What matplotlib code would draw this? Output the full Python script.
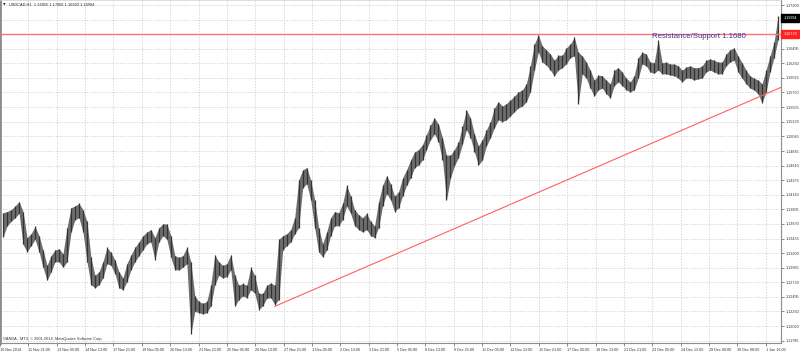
import matplotlib
matplotlib.use("Agg")
from matplotlib import pyplot as plt
import numpy as np

symbol_info = "USDCAD,H1  1.16955 1.17006 1.16920 1.16994"
copyright_text = "OANDA - MT4, \u00a9 2001-2014, MetaQuotes Software Corp."

# bar highs / lows (price) left to right
highs = [1.1385, 1.1387, 1.1390, 1.1396, 1.1403, 1.1387, 1.1345, 1.1351, 1.1363, 1.1348,
         1.1325, 1.1300, 1.1316, 1.1325, 1.1327, 1.1319, 1.1361, 1.1393, 1.1396, 1.1400,
         1.1390, 1.1371, 1.1313, 1.1284, 1.1290, 1.1306, 1.1329, 1.1321, 1.1309, 1.1290,
         1.1280, 1.1303, 1.1317, 1.1329, 1.1338, 1.1348, 1.1354, 1.1358, 1.1345, 1.1361,
         1.1367, 1.1367, 1.1348, 1.1316, 1.1313, 1.1316, 1.1329, 1.1306, 1.1251, 1.1242,
         1.1239, 1.1242, 1.1269, 1.1317, 1.1306, 1.1300, 1.1303, 1.1317, 1.1285, 1.1268,
         1.1271, 1.1268, 1.1297, 1.1284, 1.1255, 1.1255, 1.1268, 1.1272, 1.1268, 1.1342,
         1.1348, 1.1351, 1.1358, 1.1377, 1.1438, 1.1454, 1.1458, 1.1438, 1.1406, 1.1361,
         1.1335, 1.1354, 1.1377, 1.1387, 1.1385, 1.1400, 1.1429, 1.1412, 1.1390, 1.1382,
         1.1377, 1.1384, 1.1371, 1.1364, 1.1403, 1.1429, 1.1445, 1.1432, 1.1412, 1.1419,
         1.1441, 1.1454, 1.1470, 1.1483, 1.1487, 1.1495, 1.1511, 1.1527, 1.1538, 1.1528,
         1.1506, 1.1478, 1.1478, 1.1487, 1.1499, 1.1525, 1.1551, 1.1538, 1.1512, 1.1493,
         1.1503, 1.1519, 1.1532, 1.1554, 1.1564, 1.1557, 1.1561, 1.1567, 1.1573, 1.1580,
         1.1583, 1.1593, 1.1622, 1.1657, 1.1672, 1.1654, 1.1648, 1.1641, 1.1631, 1.1639,
         1.1639, 1.1651, 1.1657, 1.1668, 1.1644, 1.1638, 1.1628, 1.1615, 1.1599, 1.1607,
         1.1606, 1.1599, 1.1593, 1.1615, 1.1619, 1.1612, 1.1602, 1.1596, 1.1606, 1.1635,
         1.1644, 1.1641, 1.1628, 1.1627, 1.1664, 1.1627, 1.1628, 1.1625, 1.1625, 1.1622,
         1.1615, 1.1620, 1.1622, 1.1619, 1.1619, 1.1622, 1.1631, 1.1633, 1.1631, 1.1628,
         1.1628, 1.1641, 1.1648, 1.1651, 1.1638, 1.1627, 1.1615, 1.1606, 1.1602, 1.1599,
         1.1593, 1.1615, 1.1638, 1.1660, 1.1702]
lows = [1.1346, 1.1364, 1.1371, 1.1377, 1.1384, 1.1334, 1.1322, 1.1332, 1.1342, 1.1322,
        1.1297, 1.1276, 1.1290, 1.1306, 1.1306, 1.1297, 1.1306, 1.1354, 1.1374, 1.1377,
        1.1354, 1.1306, 1.1269, 1.1264, 1.1269, 1.1280, 1.1303, 1.1300, 1.1287, 1.1264,
        1.1261, 1.1274, 1.1293, 1.1306, 1.1316, 1.1325, 1.1335, 1.1338, 1.1309, 1.1338,
        1.1348, 1.1342, 1.1313, 1.1293, 1.1293, 1.1297, 1.1303, 1.1189, 1.1226, 1.1224,
        1.1222, 1.1224, 1.1235, 1.1269, 1.1284, 1.1280, 1.1282, 1.1293, 1.1234, 1.1245,
        1.1251, 1.1248, 1.1261, 1.1255, 1.1229, 1.1235, 1.1247, 1.1248, 1.1237, 1.1245,
        1.1325, 1.1332, 1.1338, 1.1351, 1.1361, 1.1425, 1.1432, 1.1406, 1.1361, 1.1322,
        1.1314, 1.1325, 1.1348, 1.1364, 1.1364, 1.1374, 1.1396, 1.1384, 1.1364, 1.1358,
        1.1354, 1.1358, 1.1348, 1.1345, 1.1361, 1.1396, 1.1416, 1.1406, 1.1387, 1.1393,
        1.1412, 1.1429, 1.1441, 1.1458, 1.1462, 1.1470, 1.1487, 1.1503, 1.1512, 1.1499,
        1.1470, 1.1406, 1.1441, 1.1461, 1.1474, 1.1496, 1.1519, 1.1506, 1.1483, 1.1462,
        1.1470, 1.1493, 1.1506, 1.1522, 1.1535, 1.1532, 1.1535, 1.1541, 1.1548, 1.1554,
        1.1557, 1.1564, 1.1580, 1.1615, 1.1644, 1.1628, 1.1623, 1.1615, 1.1606, 1.1615,
        1.1619, 1.1625, 1.1635, 1.1638, 1.1561, 1.1609, 1.1602, 1.1586, 1.1573, 1.1583,
        1.1586, 1.1577, 1.1570, 1.1590, 1.1596, 1.1590, 1.1583, 1.1580, 1.1583, 1.1602,
        1.1625, 1.1622, 1.1612, 1.1610, 1.1615, 1.1609, 1.1609, 1.1607, 1.1606, 1.1602,
        1.1596, 1.1602, 1.1602, 1.1599, 1.1601, 1.1602, 1.1612, 1.1615, 1.1612, 1.1609,
        1.1609, 1.1622, 1.1628, 1.1631, 1.1612, 1.1602, 1.1593, 1.1586, 1.1583, 1.1577,
        1.1562, 1.1580, 1.1612, 1.1635, 1.1664]

last_close = 1.16994
resistance = 1.16730
resistance_label = "Resistance/Support 1.1680"
trend_start = (68, 1.1234)
trend_end = (190, 1.1574)

price_ticks = [1.17200, 1.16965, 1.16730, 1.16495, 1.16260, 1.16025, 1.15790, 1.15555,
               1.15320, 1.15085, 1.14845, 1.14610, 1.14375, 1.14140, 1.13905, 1.13670,
               1.13435, 1.13200, 1.12965, 1.12730, 1.12495, 1.12260, 1.12020, 1.11785]
time_labels = ["10 Nov 2014", "11 Nov 21:00", "13 Nov 05:00", "14 Nov 13:00", "17 Nov 21:00",
               "19 Nov 05:00", "20 Nov 13:00", "21 Nov 21:00", "25 Nov 05:00", "26 Nov 13:00",
               "27 Nov 21:00", "1 Dec 05:00", "2 Dec 13:00", "3 Dec 21:00", "5 Dec 05:00",
               "8 Dec 13:00", "9 Dec 21:00", "11 Dec 05:00", "12 Dec 13:00", "15 Dec 21:00",
               "17 Dec 05:00", "18 Dec 13:00", "21 Dec 21:00", "23 Dec 05:00", "24 Dec 13:00",
               "29 Dec 00:00", "30 Dec 08:00", "1 Jan 16:00"]

plt.rcParams['font.family'] = ['Liberation Sans', 'DejaVu Sans']

fig = plt.figure(figsize=(8, 3.51), dpi=100)
ax = fig.add_axes([0, 8 / 351, 781 / 800, 343 / 351])

idx = np.arange(len(highs))
# range band plus thin dark strokes for the bars
ax.fill_between(idx, lows, highs, color="#6e6e6e", lw=0, zorder=2)
ax.vlines(idx, lows, highs, color="#333333", lw=0.9, zorder=3)

ax.set_xlim(-0.5, 194.75)
ax.set_ylim(1.11750, 1.17281)

# horizontal level + trend ray
ax.axhline(resistance, color="#ff7070", lw=1.0, zorder=4)
slope = (trend_end[1] - trend_start[1]) / (trend_end[0] - trend_start[0])
x_end = ax.get_xlim()[1]
ax.plot([trend_start[0], x_end], [trend_start[1], trend_start[1] + slope * (x_end - trend_start[0])],
        color="#ff6060", lw=0.8, zorder=4)
ax.text(162.5, 1.16700, resistance_label, color="#3a3a9c", fontsize=5.6,
        ha="left", va="center", zorder=5)

# axes styling like the terminal
ax.yaxis.tick_right()
ax.set_yticks(price_ticks)
ax.set_yticklabels(["" if p in (1.16965, resistance) else f"{p:.5f}" for p in price_ticks])
label_step = 7.1
ax.set_xticks(-0.775 + label_step * np.arange(len(time_labels)))
ax.set_xticklabels(time_labels, ha="left")
ax.tick_params(axis="both", labelsize=2.7, colors="#333333", length=2.5, width=0.4, pad=1)
ax.tick_params(axis="x", pad=1.2)
ax.grid(True, color="#c8c8c8", ls=(0, (2, 2)), lw=0.5, zorder=0)
for side in ("right", "bottom"):
    ax.spines[side].set_color("#8c8c8c")
    ax.spines[side].set_linewidth(0.8)
ax.spines["left"].set_color("#8c8c8c")
ax.spines["left"].set_linewidth(2.0)
ax.spines["top"].set_color("#d0d0d0")
ax.spines["top"].set_linewidth(0.5)

# price tags on the right scale
ytr = ax.get_yaxis_transform()
ax.text(1.003, last_close, f"{last_close:.5f}", transform=ytr, fontsize=2.7, color="white",
        ha="left", va="center", clip_on=False, zorder=6,
        bbox=dict(boxstyle="square,pad=0.5", fc="black", ec="black"))
ax.text(1.003, resistance, f"{resistance:.5f}", transform=ytr, fontsize=2.7, color="white",
        ha="left", va="center", clip_on=False, zorder=6,
        bbox=dict(boxstyle="square,pad=0.5", fc="#ff2020", ec="#ff2020"))

fig.text(3 / 800, 1 - 5 / 351, "\u25bc", fontsize=2.5, color="#222222", va="center",
         family="DejaVu Sans")
fig.text(9 / 800, 1 - 5 / 351, symbol_info, fontsize=2.8, color="#222222", va="center")
fig.text(3 / 800, 1 - 339 / 351, copyright_text, fontsize=2.8, color="#333333", va="center")

fig.savefig("out.png", dpi=100, facecolor="white")
